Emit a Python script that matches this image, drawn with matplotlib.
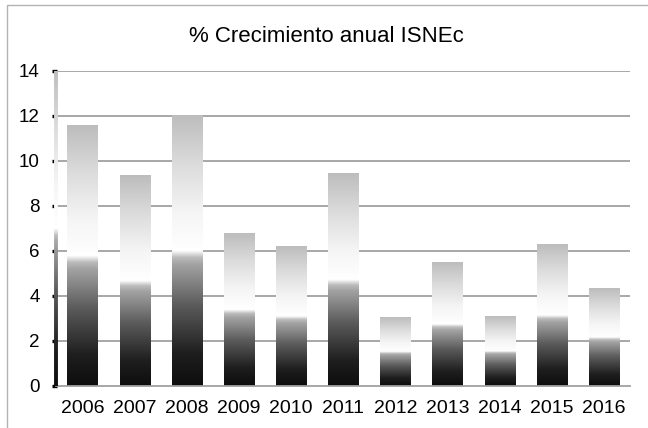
import numpy as np
import matplotlib
matplotlib.use("Agg")
import matplotlib.pyplot as plt
from matplotlib.colors import LinearSegmentedColormap
from matplotlib.collections import LineCollection
from matplotlib.patches import Rectangle

plt.rcParams['font.family'] = ['Liberation Sans', 'DejaVu Sans']

years = ["2006", "2007", "2008", "2009", "2010", "2011", "2012", "2013", "2014", "2015", "2016"]
growth = [11.58, 9.33, 12.02, 6.75, 6.17, 9.43, 3.06, 5.47, 3.08, 6.29, 4.34]
yticks = [0, 2, 4, 6, 8, 10, 12, 14]
title = "% Crecimiento anual ISNEc"

# chrome-like gradient (fraction from bottom -> gray level)
stops = [(0.00, 0.05), (0.12, 0.12), (0.30, 0.36), (0.45, 0.64), (0.475, 0.74),
         (0.50, 1.00), (0.64, 0.96), (0.82, 0.86), (1.00, 0.74)]
cmap = LinearSegmentedColormap.from_list(
    "chrome", [(f, (g, g, g)) for f, g in stops], N=512)

W, H = 648, 428
fig = plt.figure(figsize=(W / 100, H / 100), dpi=100)
fig.patch.set_facecolor("white")

# outer chart border
fig.patches.append(Rectangle((7 / W, -0.05), 1.0, 1 - 5 / H + 0.05, transform=fig.transFigure,
                             fill=False, edgecolor="#b3b3b3", linewidth=1.0))

left, right = 56.5 / W, 630 / W
bottom, top = 1 - 386 / H, 1 - 70.5 / H
ax = fig.add_axes([left, bottom, right - left, top - bottom])

grad = np.linspace(0, 1, 512).reshape(-1, 1)
bw = 0.58
x = np.arange(len(years))
bars = ax.bar(x, growth, width=bw, color="none", edgecolor="none", zorder=3)
for b in bars:
    x0 = b.get_x()
    h = b.get_height()
    ax.imshow(grad, cmap=cmap, origin="lower", aspect="auto",
              extent=[x0, x0 + bw, 0, h], interpolation="bilinear", zorder=3)
ax.set_xlim(-0.5, len(years) - 0.5)
ax.set_ylim(0, 14)

# gridlines
for v in yticks[1:]:
    ax.axhline(v, color="#a0a0a0", linewidth=1.3, zorder=1)

for s in ["top", "right", "left"]:
    ax.spines[s].set_visible(False)
ax.spines["bottom"].set_color("#a0a0a0")
ax.spines["bottom"].set_linewidth(1.3)
ax.spines["bottom"].set_zorder(4)

# gradient y axis line
ys = np.linspace(0, 14, 300)
pts = np.array([np.full_like(ys, -0.5), ys]).T.reshape(-1, 1, 2)
segs = np.concatenate([pts[:-1], pts[1:]], axis=1)
lc = LineCollection(segs, colors=cmap(ys[:-1] / 14), linewidth=2.8, zorder=5,
                    clip_on=False, capstyle="butt")
ax.add_collection(lc)

ax.set_yticks(yticks)
ax.set_yticklabels([str(v) for v in yticks], fontsize=13.5)
ax.tick_params(axis="y", length=3.5, width=2.4, pad=8.5)
for t, v in zip(ax.yaxis.get_major_ticks(), yticks):
    t.tick1line.set_color(cmap(v / 14))

ax.set_xticks(x)
ax.set_xticklabels(years, fontsize=14)
ax.tick_params(axis="x", length=0, pad=10)

fig.text(326 / W, 1 - 41.7 / H, title, ha="center", va="baseline", fontsize=16)

fig.savefig("out.png", dpi=100, facecolor="white")
